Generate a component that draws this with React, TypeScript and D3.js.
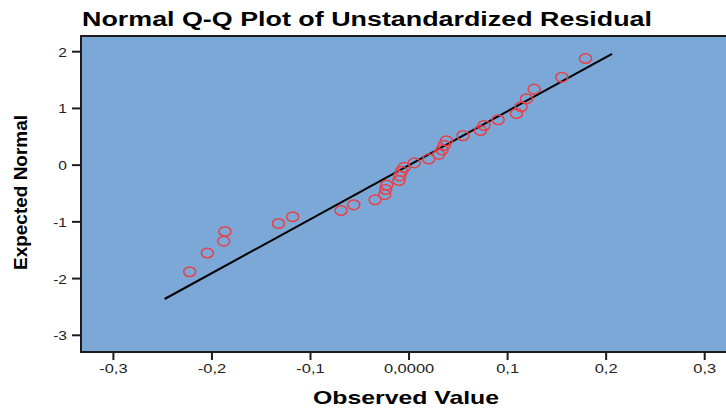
import React, { useEffect, useRef } from 'react';
import * as d3 from 'd3';

// observed residuals (x) and expected normal values (y)
const observed = [
  -0.2226, -0.2047, -0.1881, -0.1868, -0.1326, -0.1181, -0.069, -0.0561,
  -0.0345, -0.0247, -0.0237, -0.0226, -0.0102, -0.0094, -0.0077, -0.0051,
  0.0053, 0.02, 0.0302, 0.0335, 0.0357, 0.038, 0.0548, 0.0725,
  0.0761, 0.0904, 0.109, 0.1137, 0.1192, 0.1269, 0.155, 0.1791,
];
const expected = [
  -1.88, -1.55, -1.34, -1.17, -1.03, -0.91, -0.8, -0.7,
  -0.61, -0.52, -0.43, -0.35, -0.27, -0.19, -0.11, -0.04,
  0.04, 0.11, 0.19, 0.27, 0.35, 0.43, 0.52, 0.61,
  0.7, 0.8, 0.91, 1.03, 1.17, 1.34, 1.55, 1.88,
];

// reference line end points
const lineX = [-0.248, 0.206];
const lineY = [-2.36, 1.96];

const xTicks = [-0.3, -0.2, -0.1, 0, 0.1, 0.2, 0.3];
const xTickLabels = ['-0,3', '-0,2', '-0,1', '0,0000', '0,1', '0,2', '0,3'];
const yTicks = [2, 1, 0, -1, -2, -3];
const yTickLabels = ['2', '1', '0', '-1', '-2', '-3'];

const W = 726;
const H = 412;
const font = 'Liberation Sans, Arial, sans-serif';

function drawPlot(ref: React.RefObject<SVGSVGElement>) {
  const svg = d3.select(ref.current);
  svg.selectAll('*').remove();
  svg.attr('width', W).attr('height', H);

  const x = d3.scaleLinear().domain([-0.3, 0.3]).range([113.4, 704.7]);
  const y = d3.scaleLinear().domain([-3, 2]).range([335.3, 51.7]);

  const left = 81;
  const top = 36;
  const bottom = 352;

  // plot area (runs past the right edge like the original)
  svg.append('rect')
    .attr('x', left).attr('y', top)
    .attr('width', W - left + 20).attr('height', bottom - top)
    .attr('fill', '#7ba8d6')
    .attr('stroke', '#1c1c1c')
    .attr('stroke-width', 2);

  // y ticks
  yTicks.forEach((t, i) => {
    svg.append('line')
      .attr('x1', left - 9).attr('x2', left)
      .attr('y1', y(t)).attr('y2', y(t))
      .attr('stroke', '#1c1c1c').attr('stroke-width', 2);
    svg.append('text')
      .attr('transform', `translate(${left - 14},${y(t) + 5}) scale(1.15,1)`)
      .attr('text-anchor', 'end')
      .attr('font-family', font).attr('font-size', 13.5)
      .attr('fill', '#222')
      .text(yTickLabels[i]);
  });

  // x ticks
  xTicks.forEach((t, i) => {
    svg.append('line')
      .attr('x1', x(t)).attr('x2', x(t))
      .attr('y1', bottom).attr('y2', bottom + 8)
      .attr('stroke', '#1c1c1c').attr('stroke-width', 2);
    svg.append('text')
      .attr('transform', `translate(${x(t)},${373}) scale(1.22,1)`)
      .attr('text-anchor', 'middle')
      .attr('font-family', font).attr('font-size', 13.5)
      .attr('fill', '#222')
      .text(xTickLabels[i]);
  });

  // fit line
  svg.append('line')
    .attr('x1', x(lineX[0])).attr('y1', y(lineY[0]))
    .attr('x2', x(lineX[1])).attr('y2', y(lineY[1]))
    .attr('stroke', '#000').attr('stroke-width', 2);

  // points
  svg.append('g')
    .selectAll('ellipse')
    .data(observed.map((v, i) => [v, expected[i]]))
    .join('ellipse')
    .attr('cx', d => x(d[0]))
    .attr('cy', d => y(d[1]))
    .attr('rx', 6)
    .attr('ry', 4.8)
    .attr('fill', 'none')
    .attr('stroke', '#ea3f45')
    .attr('stroke-width', 1.5);

  // titles
  svg.append('text')
    .attr('x', 82).attr('y', 26)
    .attr('font-family', font).attr('font-weight', 'bold').attr('font-size', 19.5)
    .attr('textLength', 570).attr('lengthAdjust', 'spacingAndGlyphs')
    .attr('fill', '#000')
    .text('Normal Q-Q Plot of Unstandardized Residual');

  svg.append('text')
    .attr('x', 313).attr('y', 404)
    .attr('font-family', font).attr('font-weight', 'bold').attr('font-size', 19)
    .attr('textLength', 186).attr('lengthAdjust', 'spacingAndGlyphs')
    .attr('fill', '#000')
    .text('Observed Value');

  svg.append('text')
    .attr('transform', 'translate(27,270) rotate(-90)')
    .attr('font-family', font).attr('font-weight', 'bold').attr('font-size', 18.5)
    .attr('textLength', 155).attr('lengthAdjust', 'spacingAndGlyphs')
    .attr('fill', '#000')
    .text('Expected Normal');
}

export default function App() {
  const svg = useRef<SVGSVGElement>(null);

  useEffect(() => {
    drawPlot(svg);
  }, []);

  return (
    <div style={{ position: 'absolute', left: 0, top: 0, width: W, height: H, overflow: 'hidden', background: '#fff' }}>
      <svg ref={svg} style={{ display: 'block' }} />
    </div>
  );
}
